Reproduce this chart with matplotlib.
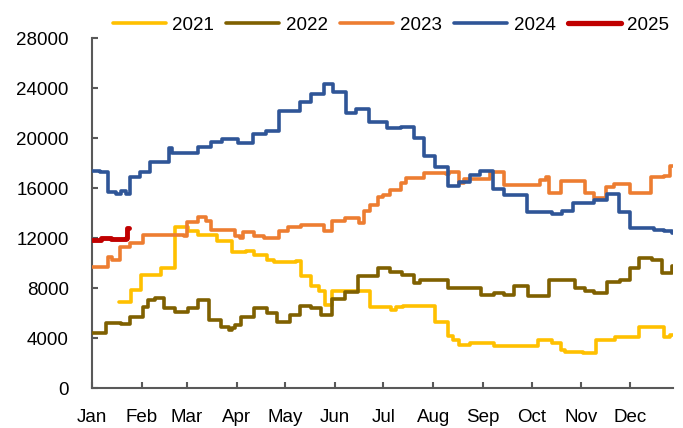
import matplotlib
matplotlib.use('Agg')
import matplotlib.pyplot as plt
from matplotlib.lines import Line2D

plt.rcParams['font.family'] = ['Liberation Sans', 'DejaVu Sans']

# ---------------- data (day of year where the value changes, value) ----------------
month_labels = ['Jan', 'Feb', 'Mar', 'Apr', 'May', 'Jun', 'Jul', 'Aug', 'Sep', 'Oct', 'Nov', 'Dec']
month_start_days = [0, 31, 59, 90, 120, 151, 181, 212, 243, 273, 304, 334]
y_ticks = [0, 4000, 8000, 12000, 16000, 20000, 24000, 28000]

days_2021 = [17, 24.5, 30.5, 43, 52, 60, 66, 78, 87, 96,
             101, 109, 113, 127, 130, 136, 141, 145, 149, 173,
             186, 189, 193, 213, 221, 224, 228, 235, 250, 277,
             286, 291, 294, 305, 313, 325, 340, 355, 359, 361]
vals_2021 = [6900, 7900, 9050, 9650, 12900, 12550, 12250, 11750, 10900, 11000,
             10650, 10250, 10100, 10200, 8950, 8150, 7750, 6700, 7800, 6550,
             6300, 6500, 6600, 5350, 4200, 3900, 3500, 3600, 3400, 3900,
             3600, 3100, 2900, 2800, 3900, 4100, 4950, 4100, 4300, 4300]

days_2022 = [0, 9, 18, 23.5, 32, 35, 39, 45, 52, 60,
             66, 73, 80, 85, 87, 89, 92.5, 101, 109, 115,
             123, 129, 136, 142.5, 149, 157, 165.5, 178, 185, 192.5,
             200, 204, 221, 241.5, 250, 256, 262, 270.6, 284, 300,
             306, 312, 319.6, 328, 334, 340, 348, 354, 360, 361]
vals_2022 = [4400, 5250, 5150, 5750, 6550, 7050, 7200, 6400, 6150, 6400,
             7100, 5500, 4950, 4700, 4850, 5100, 5750, 6400, 6000, 5350,
             5900, 6600, 6400, 5900, 7150, 7700, 8950, 9600, 9300, 9100,
             8400, 8650, 8000, 7450, 7600, 7450, 8150, 7400, 8700, 8050,
             7800, 7600, 8500, 8700, 9600, 10450, 10250, 9250, 9800, 9800]

days_2023 = [0, 10, 12.5, 17.5, 24, 32, 57, 59, 66, 71,
             74, 89, 92, 94, 101, 107, 116, 122, 130, 144,
             149, 157, 166, 169, 173, 178, 181, 185, 192, 195,
             206, 220, 222, 228, 231, 247, 256, 278, 282, 284,
             291, 306, 312, 319, 324, 334, 347, 355, 359, 361]
vals_2023 = [9700, 10500, 10300, 11300, 11600, 12300, 12150, 13300, 13700, 13400,
             12700, 12200, 12000, 12500, 12200, 12000, 12600, 12900, 13050, 12600,
             13400, 13600, 13200, 14200, 14650, 15300, 15450, 15850, 16400, 16800,
             17200, 17100, 17300, 16400, 16700, 17300, 16250, 16650, 16900, 15650,
             16550, 15650, 15250, 16100, 16300, 15600, 16900, 17000, 17800, 17800]

days_2024 = [0, 5, 10, 15, 18, 21, 24, 30, 36, 48,
             50, 66, 74, 81, 91, 100, 108, 116, 129, 136,
             144, 150, 158, 164, 172, 183, 192, 200, 206, 213,
             221, 228, 235, 241, 249, 256, 270, 286, 292, 299,
             312, 320, 327, 334, 349, 355, 360, 361]
vals_2024 = [17400, 17300, 15700, 15500, 15800, 15500, 16900, 17300, 18100, 19200,
             18800, 19300, 19700, 19900, 19600, 20300, 20600, 22200, 22900, 23500,
             24300, 23700, 22000, 22300, 21300, 20800, 20900, 20000, 18600, 17700,
             16200, 16500, 17050, 17350, 15900, 15450, 14100, 13950, 14200, 14800,
             15050, 15500, 14100, 12800, 12700, 12600, 12400, 12400]

days_2025 = [0, 6, 12, 21, 22, 23]
vals_2025 = [11850, 12050, 11950, 12050, 12800, 12800]

series = [
    ('2021', days_2021, vals_2021, '#FFC000', 2.6),
    ('2022', days_2022, vals_2022, '#7F6000', 2.6),
    ('2023', days_2023, vals_2023, '#ED7D31', 2.6),
    ('2024', days_2024, vals_2024, '#2F5597', 2.6),
    ('2025', days_2025, vals_2025, '#C00000', 3.5),
]

# ---------------- figure ----------------
fig = plt.figure(figsize=(6.83, 4.28), dpi=100)
ax = fig.add_axes([0.1343, 0.0923, 0.9858 - 0.1343, 0.9112 - 0.0923])

handles = []
for name, d, v, c, lw in series:
    ax.step(d, v, where='post', color=c, lw=lw, solid_joinstyle='round',
            solid_capstyle='round', zorder=3)
    handles.append(Line2D([], [], color=c, lw=lw + 0.3 if name == '2025' else lw,
                          solid_capstyle='round'))

ax.set_xlim(0, 361)
ax.set_ylim(0, 28000)
ax.set_yticks(y_ticks)
ax.set_yticklabels([str(t) for t in y_ticks])
ax.set_xticks(month_start_days)
ax.set_xticklabels(month_labels)

for s in ['top', 'right']:
    ax.spines[s].set_visible(False)
for s in ['left', 'bottom']:
    ax.spines[s].set_color('#595959')
    ax.spines[s].set_linewidth(1.5)

ax.tick_params(axis='both', direction='in', length=4, width=1.5, color='#595959',
               labelsize=13.5, labelcolor='black')
ax.tick_params(axis='y', pad=16.5)
ax.tick_params(axis='x', pad=14.5)

fig.legend(handles, [s[0] for s in series], loc='center', bbox_to_anchor=(0.5725, 0.941),
           ncol=5, frameon=False, fontsize=13.5, handlelength=2.83, handletextpad=0.36,
           columnspacing=0.64, borderaxespad=0, borderpad=0)

fig.savefig('out.png', dpi=100)
